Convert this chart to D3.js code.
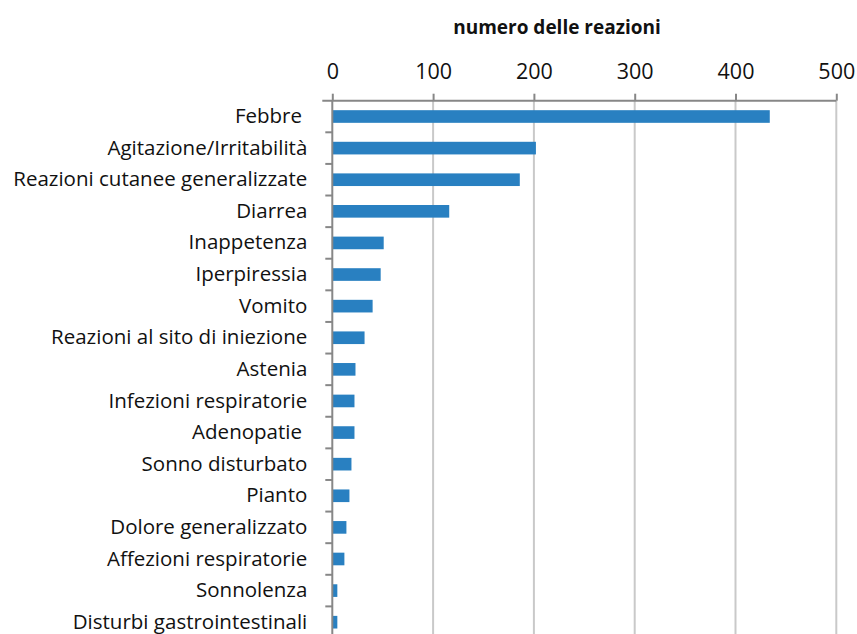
<!DOCTYPE html>
<html>
<head>
<meta charset="utf-8">
<script src="https://cdn.jsdelivr.net/npm/d3@7"></script>
<style>
  html, body { margin: 0; padding: 0; background: #fff; }
  svg { display: block; }
</style>
</head>
<body>
<svg id="chart" width="857" height="634"></svg>
<script>
const categories = [
  "Febbre ", "Agitazione/Irritabilità", "Reazioni cutanee generalizzate", "Diarrea",
  "Inappetenza", "Iperpiressia", "Vomito", "Reazioni al sito di iniezione",
  "Astenia", "Infezioni respiratorie", "Adenopatie ", "Sonno disturbato",
  "Pianto", "Dolore generalizzato", "Affezioni respiratorie", "Sonnolenza",
  "Disturbi gastrointestinali"
];
const values = [434, 202, 186, 116, 51, 48, 40, 32, 23, 22, 22, 19, 17, 14, 12, 5, 5];
const tickValues = [0, 100, 200, 300, 400, 500];
const axisTitle = "numero delle reazioni";

const svg = d3.select("#chart");
const font = "'Open Sans', sans-serif";

const x = d3.scaleLinear().domain([0, 500]).range([332.3, 836.3]);
const y = d3.scaleBand().domain(categories).range([100.7, 638]).paddingInner(0.6).paddingOuter(0.3);
const yb = d3.scaleBand().domain(categories).range([100.7, 638]);

// gridlines
svg.append("g").selectAll("line").data(tickValues.slice(1)).join("line")
  .attr("x1", d => x(d)).attr("x2", d => x(d))
  .attr("y1", 100.7).attr("y2", 640)
  .attr("stroke", "#c9c9c9").attr("stroke-width", 2);

// bars
svg.append("g").selectAll("rect").data(values).join("rect")
  .attr("x", x(0))
  .attr("y", (d, i) => y(categories[i]))
  .attr("width", d => x(d) - x(0))
  .attr("height", y.bandwidth())
  .attr("fill", "#2980c1");

// top axis
const xAxis = d3.axisTop(x).tickValues(tickValues).tickSize(7).tickPadding(15).tickFormat(d3.format("d"));
const gx = svg.append("g").attr("transform", "translate(0,100.7)").call(xAxis);
gx.select(".domain").attr("stroke", "#878787").attr("stroke-width", 2).attr("d", `M${x(0)-10},0H${x(500)}`);
gx.selectAll(".tick line").attr("stroke", "#878787").attr("stroke-width", 2);
gx.selectAll(".tick text").attr("font-family", font).attr("font-size", 21.5).attr("fill", "#111");

// left axis
const yAxis = d3.axisLeft(yb).tickSize(7).tickPadding(18);
const gy = svg.append("g").attr("transform", `translate(${x(0)},0)`).call(yAxis);
gy.select(".domain").attr("stroke", "#878787").attr("stroke-width", 2).attr("d", `M0,100.7V640`);
gy.selectAll(".tick line").remove();
gy.selectAll(".tick text").attr("font-family", font).attr("font-size", 20.5).attr("fill", "#111")
  .style("white-space", "pre");
// category separator ticks at band boundaries
svg.append("g").selectAll("line").data(categories.slice(1)).join("line")
  .attr("x1", x(0) - 7).attr("x2", x(0))
  .attr("y1", d => yb(d)).attr("y2", d => yb(d))
  .attr("stroke", "#878787").attr("stroke-width", 2);

// title
svg.append("text").attr("x", 557).attr("y", 34).attr("text-anchor", "middle")
  .attr("font-family", font).attr("font-weight", "bold").attr("font-size", 19)
  .attr("fill", "#111").text(axisTitle);
</script>
</body>
</html>
